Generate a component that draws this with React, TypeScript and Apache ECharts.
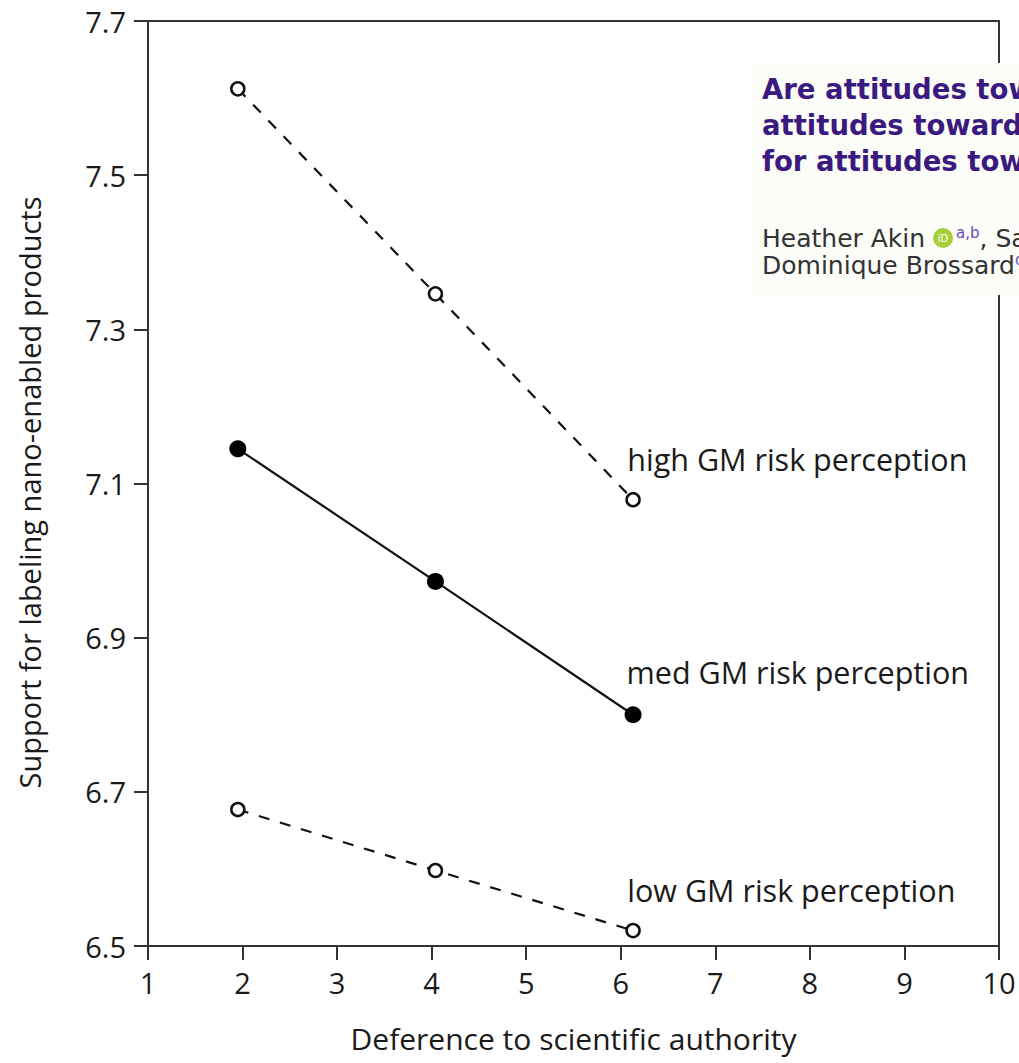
import React, { useEffect, useRef } from "react";
import * as echarts from "echarts";

// Data
const deference = [1.95, 4.04, 6.13];
const highRisk = [7.612, 7.346, 7.079];
const medRisk = [7.145, 6.973, 6.8];
const lowRisk = [6.677, 6.598, 6.52];
const seriesNames = [
  "high GM risk perception",
  "med GM risk perception",
  "low GM risk perception",
];
const xTicks = [1, 2, 3, 4, 5, 6, 7, 8, 9, 10];
const yTicks = [6.5, 6.7, 6.9, 7.1, 7.3, 7.5, 7.7];
const xTitle = "Deference to scientific authority";
const yTitle = "Support for labeling nano-enabled products";
const paperTitle = ["Are attitudes toward", "attitudes toward", "for attitudes toward"];

const FONT = "'Open Sans', 'Noto Sans', sans-serif";
const PAPER_FONT = "'DejaVu Sans', sans-serif";
const INK = "#1a1a1a";

function buildData(ys: number[], name: string, symbolSize: number) {
  return deference.map((x, i) => {
    if (i === deference.length - 1) {
      return {
        value: [x, ys[i]],
        label: {
          show: true,
          formatter: name,
          position: [2, -symbolSize / 2 - 26],
          align: "left",
          verticalAlign: "middle",
          fontFamily: FONT,
          fontSize: 30.5,
          color: INK,
        },
      };
    }
    return { value: [x, ys[i]] };
  });
}

export default function App() {
  const ref = useRef<HTMLDivElement>(null);

  useEffect(() => {
    if (!ref.current) return;
    const chart = echarts.init(ref.current, undefined, { renderer: "svg" });

    const openStyle = {
      color: "#ffffff",
      borderColor: "#111",
      borderWidth: 2.5,
    };

    chart.setOption({
      animation: false,
      backgroundColor: "#ffffff",
      grid: {
        left: 148,
        right: 20,
        top: 21,
        bottom: 117,
        show: true,
        borderColor: "#333",
        borderWidth: 2,
        backgroundColor: "transparent",
      },
      xAxis: {
        type: "value",
        min: 1,
        max: 10,
        interval: 1,
        name: xTitle,
        nameLocation: "middle",
        nameGap: 77,
        nameTextStyle: { fontFamily: FONT, fontSize: 30, color: INK },
        axisLine: { show: true, onZero: false, lineStyle: { color: "#333", width: 2 } },
        axisTick: { show: true, length: 14, lineStyle: { color: "#333", width: 2 }, customValues: xTicks },
        axisLabel: {
          fontFamily: FONT,
          fontSize: 29,
          color: INK,
          margin: 22,
          customValues: xTicks,
        },
        splitLine: { show: false },
      },
      yAxis: {
        type: "value",
        min: 6.5,
        max: 7.7,
        name: yTitle,
        nameLocation: "middle",
        nameGap: 104,
        nameTextStyle: { fontFamily: FONT, fontSize: 29, color: INK, padding: [0, 18, 0, 0] },
        axisLine: { show: true, onZero: false, lineStyle: { color: "#333", width: 2 } },
        axisTick: { show: true, length: 14, lineStyle: { color: "#333", width: 2 }, customValues: yTicks },
        axisLabel: {
          fontFamily: FONT,
          fontSize: 29,
          color: INK,
          margin: 22,
          customValues: yTicks,
          formatter: (v: number) => v.toFixed(1),
        },
        splitLine: { show: false },
      },
      series: [
        {
          name: seriesNames[0],
          type: "line",
          data: buildData(highRisk, seriesNames[0], 13),
          symbol: "circle",
          symbolSize: 13,
          itemStyle: openStyle,
          lineStyle: { color: "#111", width: 2.2, type: [11, 11] },
          z: 3,
        },
        {
          name: seriesNames[1],
          type: "line",
          data: buildData(medRisk, seriesNames[1], 17),
          symbol: "circle",
          symbolSize: 17,
          itemStyle: { color: "#000" },
          lineStyle: { color: "#111", width: 2.2, type: "solid" },
          z: 3,
        },
        {
          name: seriesNames[2],
          type: "line",
          data: buildData(lowRisk, seriesNames[2], 13),
          symbol: "circle",
          symbolSize: 13,
          itemStyle: openStyle,
          lineStyle: { color: "#111", width: 2.2, type: [11, 11] },
          z: 3,
        },
      ],
      graphic: [
        {
          type: "group",
          z: 100,
          children: [
            {
              type: "rect",
              shape: { x: 752, y: 63, width: 300, height: 232 },
              style: { fill: "#fcfcf8" },
              z: 100,
            },
            ...paperTitle.map((t, i) => ({
              type: "text",
              x: 762,
              y: 89 + i * 36,
              z: 101,
              style: {
                text: t,
                fontFamily: PAPER_FONT,
                fontWeight: "bold",
                fontSize: 27.5,
                fill: "#3b1a80",
                verticalAlign: "middle",
                align: "left",
              },
            })),
            {
              type: "text",
              x: 762,
              y: 238,
              z: 101,
              style: {
                text: "Heather Akin {icon|iD}{sup|a,b}, Sam",
                fontFamily: PAPER_FONT,
                fontSize: 25,
                fill: "#333",
                verticalAlign: "middle",
                align: "left",
                rich: {
                  icon: {
                    backgroundColor: "#a6ce39",
                    borderRadius: 10,
                    width: 20,
                    height: 20,
                    lineHeight: 20,
                    align: "center",
                    fontSize: 10,
                    fontFamily: PAPER_FONT,
                    fill: "#ffffff",
                    color: "#ffffff",
                  },
                  sup: {
                    fontSize: 15,
                    lineHeight: 15,
                    verticalAlign: "top",
                    fontFamily: PAPER_FONT,
                    fill: "#6a4fb0",
                    color: "#6a4fb0",
                    padding: [0, 0, 0, 3],
                  },
                },
              },
            },
            {
              type: "text",
              x: 762,
              y: 265,
              z: 101,
              style: {
                text: "Dominique Brossard{sup|d}",
                fontFamily: PAPER_FONT,
                fontSize: 25,
                fill: "#333",
                verticalAlign: "middle",
                align: "left",
                rich: {
                  sup: {
                    fontSize: 15,
                    lineHeight: 15,
                    verticalAlign: "top",
                    fontFamily: PAPER_FONT,
                    fill: "#6a4fb0",
                    color: "#6a4fb0",
                  },
                },
              },
            },
          ],
        },
      ],
    });

    return () => chart.dispose();
  }, []);

  return (
    <div
      ref={ref}
      style={{
        position: "absolute",
        left: 0,
        top: 0,
        width: 1019,
        height: 1063,
        overflow: "hidden",
        background: "#fff",
      }}
    />
  );
}
